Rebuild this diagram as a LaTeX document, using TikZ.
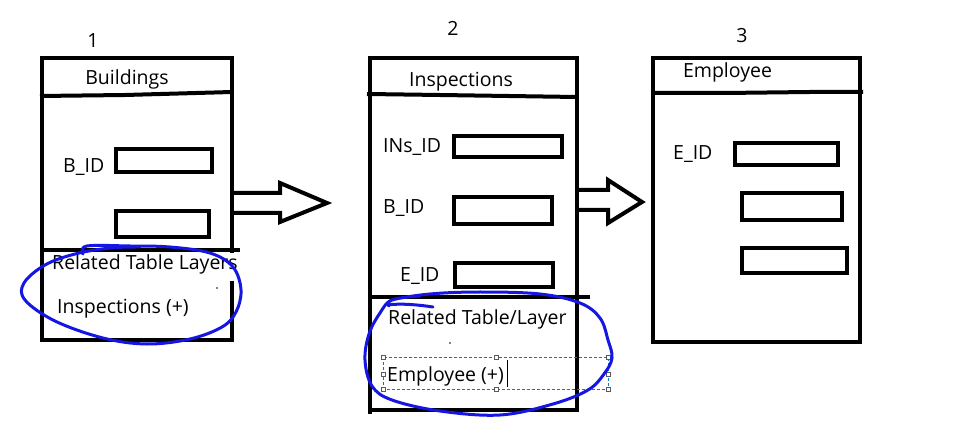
\documentclass[tikz,border=0pt]{standalone}
\usepackage{fontspec}
\setmainfont{Open Sans}
\begin{document}
\begin{tikzpicture}[x=1pt,y=-1pt,
  tbl/.style={draw,line width=4,rectangle,inner sep=0,minimum width=#1},
  fld/.style={draw,line width=4,rectangle,inner sep=0},
  sep/.style={line width=4},
  txt/.style={inner sep=0,font=\fontsize{19.5}{23}\selectfont},
  blk/.style={line width=4,miter limit=10},
  pen/.style={draw={rgb,255:red,22;green,22;blue,228},line width=3,line cap=round,line join=round},
  selbox/.style={draw={rgb,255:red,0;green,120;blue,215},line width=1,dash pattern=on 3 off 2},
  handle/.style={draw={rgb,255:red,90;green,90;blue,90},fill=white,line width=0.8,minimum size=4,inner sep=0,rectangle}
]
\useasboundingbox[fill=white] (0,0) rectangle (963,443);

% ---------- table 1 ----------
\node[tbl=190,minimum height=282] (t1) at (137,199) {};
\draw[sep] (40,96) -- (125,95) -- (232,92);
\draw[sep] (t1.west |- 0,250) -- (240,250);
\node[fld,minimum width=96,minimum height=23] (f11) at (164,160.5) {};
\node[fld,minimum width=93,minimum height=26] (f12) at (162.5,224) {};
\node[txt,anchor=base] (n1) at (93,48) {1};
\node[txt,anchor=base] (h1) at (127,85) {Buildings};
\node[txt,anchor=base west] (l11) at (63,173) {B\_ID};
\fill[white] (228,253) rectangle (238,281);
\node[txt,anchor=base west] (r1) at (52,270) {Related Table Layers};
\node[txt,anchor=base west] (i1) at (57,313) {Inspections (+)};
\fill (217,288) circle (0.9);

% ---------- table 2 ----------
\node[tbl=207,minimum height=352] (t2) at (473.5,234) {};
\draw[sep] (367,94) -- (440,95) -- (577,97);
\draw[sep] (t2.west |- 0,297) -- (590,297);
\draw[sep] (370,410) -- (370,414);
\node[fld,minimum width=108,minimum height=21] (f21) at (508,146.5) {};
\node[fld,minimum width=98,minimum height=27] (f22) at (503,210.5) {};
\node[fld,minimum width=98,minimum height=24] (f23) at (504,275) {};
\node[txt,anchor=base] (n2) at (453,36) {2};
\node[txt,anchor=base] (h2) at (461,87) {Inspections};
\node[txt,anchor=base west] (l21) at (383,153) {INs\_ID};
\node[txt,anchor=base west] (l22) at (383,214) {B\_ID};
\node[txt,anchor=base west] (l23) at (400,282) {E\_ID};
\node[txt,anchor=base west] (r2) at (388,325) {Related Table/Layer};
\node[txt,anchor=base west] (e2) at (387,381) {Employee (+)};
\draw[line width=1] (507,360) -- (507,387);
\fill (450,343) circle (0.9);
% selection box
\draw[selbox] (383.3,357.3) rectangle (608.3,389);
\foreach \hx in {383.3,496,608.3}{
  \node[handle] at (\hx,357.3) {};
  \node[handle] at (\hx,389) {};
}
\node[handle] at (383.3,374) {};
\node[handle] at (608.3,374) {};

% ---------- table 3 ----------
\node[tbl=207,minimum height=284] (t3) at (756.5,200) {};
\draw[sep] (653,93) -- (725,93) -- (810,92) -- (863,92);
\node[fld,minimum width=103,minimum height=22] (f31) at (786.5,154) {};
\node[fld,minimum width=100,minimum height=27] (f32) at (792,206.5) {};
\node[fld,minimum width=105,minimum height=25] (f33) at (794.5,260.5) {};
\node[txt,anchor=base] (n3) at (742,43) {3};
\node[txt,anchor=base] (h3) at (727.5,78) {Employee};
\node[txt,anchor=base west] (l31) at (673,160) {E\_ID};

% ---------- block arrows ----------
\draw[blk] (t1.east |- 0,193) -- (280,193) -- (280,183) -- (327,203) -- (280,222) -- (280,213) -- (t1.east |- 0,213);
\draw[blk] (t2.east |- 0,190) -- (608,190) -- (608,180) -- (642,202) -- (608,223) -- (608,210) -- (t2.east |- 0,210);

% ---------- blue pen loops ----------
\draw[pen] plot[smooth,tension=0.6] coordinates {(83,254) (87,246) (130,246) (170,247) (210,253) (233,267) (241,290) (236,312) (222,327) (190,339) (147,344) (103,338) (55,321) (25,300) (24,283) (45,265) (75,254) (110,248) (140,247)};
\draw[pen] plot[smooth,tension=0.6] coordinates {(389,306) (392,300) (430,294) (480,292) (540,294) (580,303) (600,318) (608,340) (612,358) (604,374) (588,390) (553,404) (500,415) (440,411) (392,400) (372,386) (365,360) (369,334) (380,313) (392,300) (420,296)};
\draw[pen] (388,305) .. controls (400,303) and (420,305) .. (433,307);
\end{tikzpicture}
\end{document}
